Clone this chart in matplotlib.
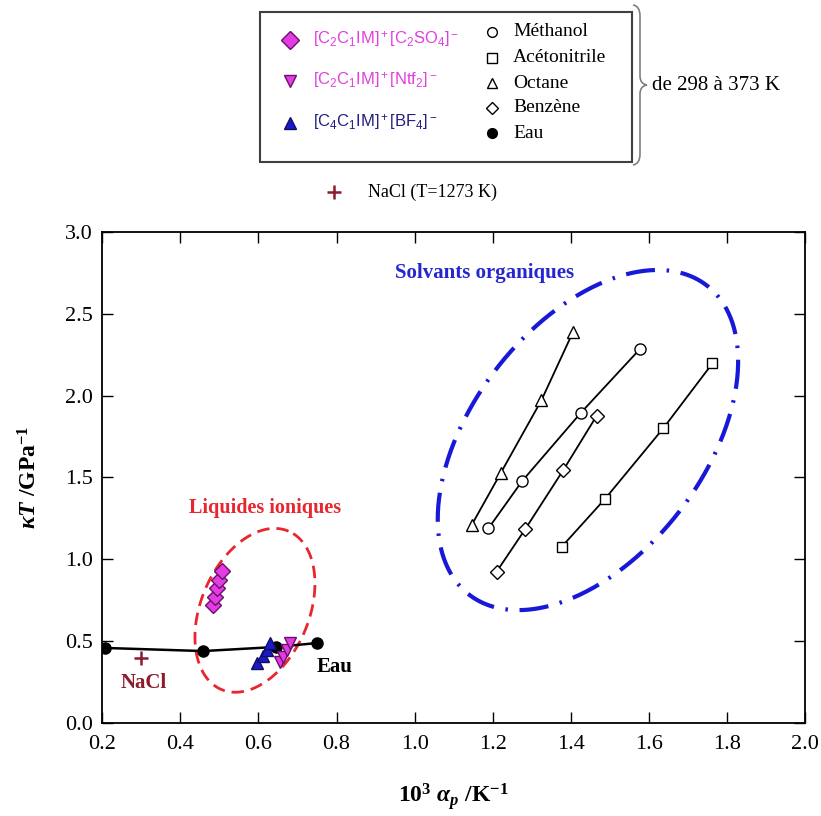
import numpy as np
import matplotlib
matplotlib.use("Agg")
import matplotlib.pyplot as plt
from matplotlib.path import Path
from matplotlib.patches import PathPatch, Rectangle

plt.rcParams["font.family"] = ["Liberation Serif", "DejaVu Serif"]
plt.rcParams["mathtext.fontset"] = "custom"
plt.rcParams["mathtext.rm"] = "Liberation Sans"
plt.rcParams["mathtext.it"] = "Liberation Serif:italic:bold"
plt.rcParams["mathtext.bf"] = "Liberation Serif:bold"

# organic solvents, 298 -> 373 K
octane_x = [1.146, 1.221, 1.325, 1.406]
octane_y = [1.208, 1.528, 1.972, 2.390]
methanol_x = [1.189, 1.276, 1.426, 1.577]
methanol_y = [1.188, 1.479, 1.895, 2.284]
benzene_x = [1.210, 1.283, 1.381, 1.466]
benzene_y = [0.923, 1.182, 1.545, 1.875]
acn_x = [1.377, 1.488, 1.637, 1.763]
acn_y = [1.076, 1.369, 1.800, 2.197]

# water
eau_x = [0.207, 0.458, 0.645, 0.750]
eau_y = [0.457, 0.438, 0.463, 0.487]

# ionic liquids
so4_x = [0.484, 0.489, 0.494, 0.500, 0.506]
so4_y = [0.719, 0.770, 0.822, 0.872, 0.929]
ntf2_x = [0.655, 0.664, 0.672, 0.681]
ntf2_y = [0.369, 0.403, 0.444, 0.485]
bf4_x = [0.595, 0.611, 0.621, 0.630]
bf4_y = [0.363, 0.408, 0.444, 0.485]

nacl_x = [0.299]
nacl_y = [0.397]

xticks = [0.2, 0.4, 0.6, 0.8, 1.0, 1.2, 1.4, 1.6, 1.8, 2.0]
yticks = [0.0, 0.5, 1.0, 1.5, 2.0, 2.5, 3.0]

MAG = "#e23ce2"
MAG_TXT = "#e040e0"
NAVY_TXT = "#202080"
BLUE = "#1a1acc"
NACL_C = "#8b1c2c"
RED = "#e8262e"
EBLUE = "#1818d8"

W, H = 821, 816
fig = plt.figure(figsize=(W / 100, H / 100), dpi=100)
ax = fig.add_axes([102.3 / W, (H - 722.7) / H, 702.7 / W, 490.7 / H])
ax.set_xlim(0.2, 2.0)
ax.set_ylim(0.0, 3.0)

# pixel scale, used to draw the two enclosing ellipses
sx = 702.7 / 1.8
sy = 490.7 / 3.0


def ellipse(cx, cy, a, b, theta):
    t = np.linspace(0, 2 * np.pi, 400)
    th = np.radians(theta)
    dx = a * np.cos(t) * np.cos(th) - b * np.sin(t) * np.sin(th)
    dy = a * np.cos(t) * np.sin(th) + b * np.sin(t) * np.cos(th)
    return cx + dx / sx, cy + dy / sy


ex, ey = ellipse(0.591, 0.687, 86, 54, 67)
ax.plot(ex, ey, color=RED, lw=2.0, linestyle=(0, (4.5, 2.5)), zorder=1)
ex, ey = ellipse(1.444, 1.728, 195, 116, 52.5)
ax.plot(ex, ey, color=EBLUE, lw=3.0, linestyle=(0, (7, 2.8, 0.6, 2.8)), zorder=1)

kw = dict(color="black", lw=1.3, mfc="white", mec="black", mew=1.0, zorder=3)
ax.plot(octane_x, octane_y, marker="^", ms=8, **kw)
ax.plot(methanol_x, methanol_y, marker="o", ms=8, **kw)
ax.plot(benzene_x, benzene_y, marker="D", ms=7, **kw)
ax.plot(acn_x, acn_y, marker="s", ms=7.5, **kw)

ax.plot(eau_x, eau_y, color="black", lw=1.8, marker="o", ms=8, zorder=3)

ax.plot(so4_x, so4_y, ls="none", marker="D", ms=8.5, mfc=MAG, mec="#6a106a", mew=1.0, zorder=4)
ax.plot(bf4_x, bf4_y, ls="none", marker="^", ms=9, mfc=BLUE, mec="#101060", mew=1.0, zorder=4)
ax.plot(ntf2_x, ntf2_y, ls="none", marker="v", ms=9, mfc=MAG, mec="#6a106a", mew=1.0, zorder=4)
ax.plot(nacl_x, nacl_y, ls="none", marker="+", ms=10, mew=1.8, color=NACL_C, zorder=4)

ax.text(0.617, 1.312, "Liquides ioniques", color=RED, fontsize=14.5, fontweight="bold",
        ha="center", va="center")
ax.text(1.179, 2.747, "Solvants organiques", color="#2626d0", fontsize=15, fontweight="bold",
        ha="center", va="center")
ax.text(0.306, 0.245, "NaCl", color=NACL_C, fontsize=15, fontweight="bold", ha="center", va="center")
ax.text(0.796, 0.342, "Eau", color="black", fontsize=15, fontweight="bold", ha="center", va="center")

ax.set_xticks(xticks)
ax.set_yticks(yticks)
ax.set_xticklabels([f"{v:.1f}" for v in xticks])
ax.set_yticklabels([f"{v:.1f}" for v in yticks])
ax.tick_params(direction="in", length=8, width=1.0, labelsize=16, top=True, right=True)
ax.tick_params(axis="x", pad=9)
ax.tick_params(axis="y", pad=7)
for s in ax.spines.values():
    s.set_linewidth(1.3)

ax.set_xlabel(r"$\mathbf{10^{3}}\ \alpha_{p}\ \mathbf{/K^{-1}}$", fontsize=17)
ax.set_ylabel(r"$\kappa T\ \mathbf{/GPa^{-1}}$", fontsize=17)
ax.xaxis.set_label_coords(0.5, -0.118)
ax.yaxis.set_label_coords(-0.086, 0.5)

# legend area drawn in pixel coordinates
ov = fig.add_axes([0, 0, 1, 1])
ov.set_xlim(0, W)
ov.set_ylim(H, 0)
ov.axis("off")

ov.add_patch(Rectangle((260, 12), 372, 150, fill=False, ec="#404040", lw=1.5))

left_items = [
    ("D", MAG, "#6a106a", r"[C$_2$C$_1$IM]$^+$[C$_2$SO$_4$]$^-$", MAG_TXT, 40),
    ("v", MAG, "#6a106a", r"[C$_2$C$_1$IM]$^+$[Ntf$_2$]$^-$", MAG_TXT, 81),
    ("^", BLUE, "#101060", r"[C$_4$C$_1$IM]$^+$[BF$_4$]$^-$", NAVY_TXT, 123),
]
for m, fc, ec, lab, tc, y in left_items:
    ov.plot([290], [y], marker=m, ms=9, mfc=fc, mec=ec, ls="none")
    ov.text(313, y, lab, color=tc, fontsize=12, va="center", ha="left",
            family=["Liberation Sans", "DejaVu Sans"])

right_items = [
    ("o", "white", "Méthanol", 32),
    ("s", "white", "Acétonitrile", 58),
    ("^", "white", "Octane", 83),
    ("D", "white", "Benzène", 108),
    ("o", "black", "Eau", 133),
]
for m, fc, lab, y in right_items:
    ms = 6.5 if m == "D" else 7
    ov.plot([492], [y], marker=m, ms=ms, mfc=fc, mec="black", mew=1.0, ls="none")
    ov.text(513, y, lab, color="black", fontsize=14, va="center", ha="left")

# curly brace
verts = [(633, 5), (640, 6), (640, 16), (640, 76), (640, 84), (647, 85),
         (640, 86), (640, 94), (640, 154), (640, 164), (633, 165)]
codes = [Path.MOVETO, Path.CURVE3, Path.CURVE3, Path.LINETO, Path.CURVE3, Path.CURVE3,
         Path.CURVE3, Path.CURVE3, Path.LINETO, Path.CURVE3, Path.CURVE3]
ov.add_patch(PathPatch(Path(verts, codes), fill=False, ec="#808080", lw=1.2))
ov.text(652, 85, "de 298 à 373 K", fontsize=15, va="center", ha="left")

ov.plot([334], [192], marker="+", ms=10, mew=1.8, color=NACL_C, ls="none")
ov.text(368, 192, "NaCl (T=1273 K)", fontsize=13, va="center", ha="left")

fig.savefig("out.png", dpi=100)
